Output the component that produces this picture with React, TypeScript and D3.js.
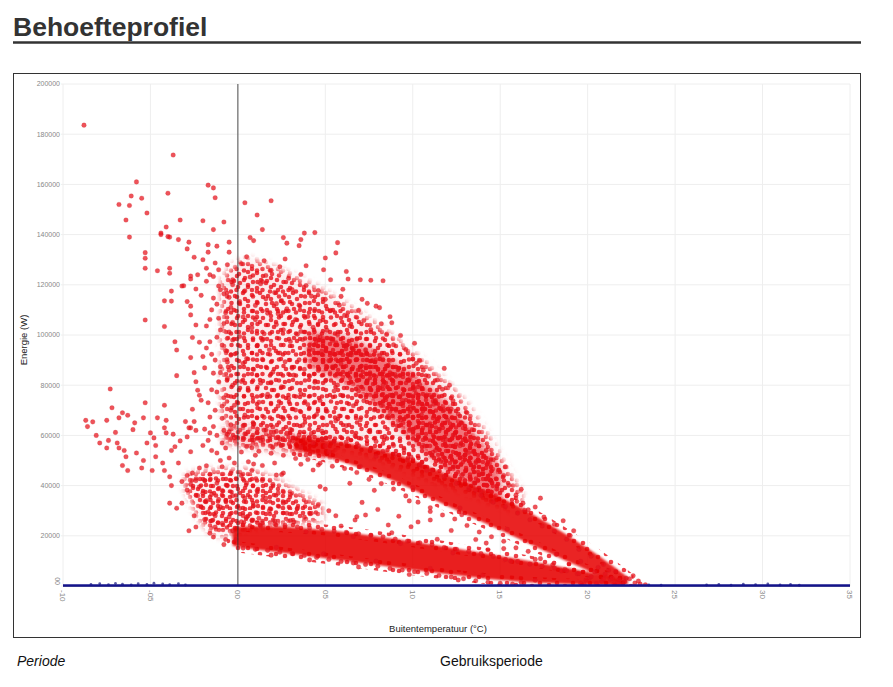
import * as d3 from 'd3'

// Behoefteprofiel: energie (W) tegen buitentemperatuur (°C)
// y-waarden in de puntenlijsten staan in kW

const xTicks = [-10, -5, 0, 5, 10, 15, 20, 25, 30, 35]
const xTickLabels = ['-10', '-05', '00', '05', '10', '15', '20', '25', '30', '35']
const yTicks = [0, 20000, 40000, 60000, 80000, 100000, 120000, 140000, 160000, 180000, 200000]
const yTickLabels = ['00', '20000', '40000', '60000', '80000', '100000', '120000', '140000', '160000', '180000', '200000']

// dichte kernen van de puntenwolk: [temp, ondergrens kW, bovengrens kW]
const lowBand: [number, number, number][] = [
  [-0.3, 16, 23], [0, 15.5, 24], [3.5, 12.5, 23.5], [6.3, 9.8, 21.5], [9.2, 7.2, 18.5], [12, 4.6, 15.5],
  [15, 2.2, 12], [17.8, 1, 8.5], [20.6, 0.3, 5], [22, 0.1, 2],
]
const midBand: [number, number, number][] = [
  [3.2, 54, 59.5], [4.5, 52.5, 58.5], [6.3, 49, 57], [9.2, 41.5, 53], [12, 31.5, 44],
  [15, 22.5, 36], [17.8, 13, 25], [20.6, 4.2, 12.5], [22.3, 0.5, 3.5],
]
const midBandLeft: [number, number, number][] = [
  [-0.8, 57, 63], [0, 56, 63.5], [2, 54.5, 61.5], [4, 53, 59.5], [5.5, 50.5, 58],
]
const cloudArea: [number, number, number][] = [
  [-0.9, 68, 122], [-0.3, 63, 128], [0.5, 62, 131], [2, 60, 127], [4, 58, 121], [6, 55, 113], [8, 51, 104],
  [10, 45, 93], [12, 40, 81], [13.5, 36, 69], [15, 32, 51], [16.2, 29, 37],
]
const ridgeArea: [number, number, number][] = [
  [4.0, 88, 101], [6, 82, 100], [8, 72, 93], [10, 58, 85], [12, 45, 73], [13.5, 39, 61], [15, 33, 46],
]
const wedgeArea: [number, number, number][] = [
  [-3.0, 39, 44], [-2, 23, 46], [-1, 19, 46], [0, 22, 47], [1.5, 24, 45], [3, 25, 39], [4.8, 26, 32],
]

const topPoints: [number, number][] = [
  [-8.8, 183.6], [-3.7, 171.7], [-5.8, 161], [-6.1, 155.4], [-6.8, 152], [-6.2, 151.6], [-5.2, 148.6],
  [-4, 156.5], [-1.7, 159.7], [-1.4, 158.6], [-1.3, 154.7], [0.4, 152.7], [1.9, 153.5], [1.1, 147.8],
  [1.4, 142], [-3.3, 145.8], [-2, 145.5], [-0.8, 145], [-1.4, 142], [-4.1, 143], [-4.4, 140], [-4, 139.2],
  [-2.8, 137], [4.4, 140.8], [3.8, 140.6], [5.7, 136.8], [2.6, 138.8], [3.6, 138], [0.7, 138.8],
  [0.9, 137.6], [2.8, 136.6], [3.5, 135.6], [5.6, 132.7], [5, 130.7], [-6.4, 145.8], [-5.5, 154.5],
  [-0.6, 128], [7.6, 121.8], [8.3, 121.6], [6.2, 125.3], [-6.2, 139], [-4.4, 140.6], [-3.9, 139],
  [-3.4, 138], [-1.7, 136], [-1.2, 135.4], [-0.5, 137],
]

const leftPoints: [number, number][] = [
  [-8.7, 66], [-8.6, 63.5], [-8.1, 60], [-7.9, 57], [-7.5, 66], [-7.4, 58], [-7.3, 78.5], [-7.2, 71],
  [-7.5, 55], [-6.9, 57], [-6.8, 55], [-6.8, 67], [-6.6, 69], [-6.5, 54], [-6.4, 51.5], [-6.3, 46],
  [-6.6, 48], [-6.3, 68], [-5.9, 65], [-5.8, 53], [-5.5, 47], [-5.4, 50], [-5.3, 73], [-5.4, 67],
  [-5.2, 57], [-5, 61], [-4.9, 46], [-4.8, 59], [-4.7, 56], [-4.7, 51.5], [-4.6, 67], [-4.3, 49],
  [-4.2, 72], [-4.2, 46], [-4.1, 66], [-4.2, 63], [-3.9, 43.5], [-3.8, 40], [-4.1, 61], [-3.8, 54],
  [-3.6, 55.5], [-3.9, 33], [-3.5, 31], [-3.2, 33], [-3.4, 49], [-3, 65.5], [-2.8, 63], [-2.5, 65.5],
  [-2.7, 53.5], [-2.7, 63], [-2.4, 62],
  [-5.3, 132.8], [-5.3, 130.6], [-5.3, 126.6], [-5.3, 106], [-4.6, 125.6], [-4.2, 113.6], [-4.2, 103.4],
  [-3.9, 126.6], [-3.9, 124.6], [-3.8, 117.5], [-3.8, 113.5], [-3.6, 97.3], [-3.5, 94], [-3.5, 83.8],
  [-3.2, 119.5], [-3.1, 119.6], [-2.9, 134.3], [-2.7, 122.3], [-2.7, 123.5], [-2.9, 113.3], [-2.7, 111.5],
  [-2.7, 108], [-2.5, 131], [-2.4, 118.3], [-2.4, 104], [-2.3, 124], [-2.6, 99], [-2.7, 91], [-2.5, 85],
  [-2.4, 81.4], [-2.3, 78], [-2.2, 76], [-2.1, 74], [-1.8, 126.6], [-1.7, 133], [-2, 130], [-1.6, 124],
  [-1.3, 128.7], [-1.1, 126], [-1.1, 119.5], [-1, 118], [-1.4, 114.7], [-1.5, 110], [-1.1, 106.7],
  [-1, 102], [-0.9, 96], [-1.6, 97.3], [-1.8, 94.8], [-2, 91.4], [-1.3, 90], [-1, 87.4], [-0.5, 86],
  [-1.4, 84.8], [-1.1, 81.4], [-1, 85], [-0.8, 75], [-1.3, 70], [-0.4, 70], [-1.7, 73], [-0.5, 115],
  [-0.3, 120], [-0.4, 111], [-0.3, 105], [-0.3, 98], [-0.4, 92], [-0.3, 80], [-0.2, 72], [-0.3, 122],
  [-0.5, 133], [-1.9, 62.5], [-1.6, 61], [-1.2, 60], [-1.4, 63.5], [-0.8, 62], [-0.6, 60.5], [-1.7, 58],
  [-0.9, 57], [-1.5, 54], [-1.2, 53], [-0.7, 55], [-2, 56], [-1, 50], [-0.5, 51], [-2.2, 47], [-0.9, 47.5],
  [-3.7, 60.5], [-3.3, 57.8], [-2.9, 59.4], [-6.0, 62.3], [-7.0, 61.2], [-8.3, 65.4],
  [-1.8, 103.6], [-2.2, 97.1], [-0.7, 93.8], [-1.9, 86.9], [-0.6, 82.7], [-1.5, 78.2], [-0.9, 66.8],
  [-1.6, 67.3], [-2.6, 70.4], [-0.4, 64.2], [-1.2, 112.3], [-0.7, 108.9], [-2.1, 115.8], [-1.8, 121.4],
  [-1.2, 99.1], [-0.8, 104.6], [-1.5, 92.3], [-0.6, 89.2], [-1.2, 77.3], [-0.9, 71.6], [-1.4, 123.3],
  [-0.8, 116.4], [-1.6, 106.2], [-0.5, 101.2],
]

const wedgePoints: [number, number][] = [
  [-2.6, 45], [-2.4, 42], [-2.2, 39.5], [-2, 37], [-2.5, 28], [-2.4, 23.5], [-2.1, 31.5], [-1.8, 34],
  [-1.7, 29.5], [-1.5, 26], [-1.4, 19.5], [-1.3, 23.5], [-1, 31.5], [-0.9, 38], [-0.7, 34], [-0.5, 27.5],
  [-0.4, 45], [-0.3, 22], [-0.2, 49], [-0.1, 18.5], [-0.7, 18.5], [-0.8, 16.5], [-2.9, 44], [-2.7, 40.5],
  [-2.3, 36], [-1.9, 42], [-1.6, 44.5], [-1.2, 41], [-1.5, 36.5], [-1.1, 34.5], [-0.6, 40], [-0.3, 36],
  [-1.9, 26.5], [-1.3, 28], [-0.9, 25], [-2.8, 22], [-1.6, 21], [0.2, 44], [0.5, 41], [0.8, 46],
  [1.1, 38], [1.4, 42], [0.4, 35], [0.9, 32], [1.6, 35], [2.0, 40.5], [2.3, 37], [1.8, 30], [2.6, 33],
  [3.0, 36.5], [2.8, 29], [3.4, 31], [3.8, 27.5], [0.3, 28], [1.2, 27], [2.1, 26], [3.2, 25.5], [4.2, 29],
  [4.6, 32.5], [5.2, 30], [5.6, 28], [0.6, 49.5], [1.4, 48], [2.6, 45], [0.1, 31], [2.2, 44.2], [2.5, 44.4],
  [4.6, 48.2], [4.7, 39.6], [1.0, 52.1], [0.2, 53.4], [-3.2, 41.6], [-2.9, 38.2], [-1.8, 47.9], [0.9, 48.6],
]

const cloudPoints: [number, number][] = [
  [0.2, 128.4], [0.7, 123.1], [0.4, 117.6], [1.0, 111.8], [0.3, 107.2], [0.8, 102.9], [0.1, 99.4], [1.1, 95.7],
  [0.5, 90.6], [0.9, 86.3], [0.2, 81.5], [0.6, 77.9], [1.2, 73.2], [0.4, 68.1], [0.9, 64.6], [0.1, 113.3],
  [1.3, 120.4], [0.5, 131.2], [0.3, 88.7], [1.0, 106.1], [1.5, 129.6], [1.9, 125.8], [1.4, 121.3], [2.1, 116.9],
  [1.6, 114.4], [1.7, 108.7], [2.2, 104.2], [1.5, 100.5], [1.8, 94.1], [1.4, 90.3], [2.0, 85.2], [1.3, 80.8],
  [1.7, 76.4], [2.3, 71.7], [1.5, 67.2], [2.0, 63.3], [1.6, 123.7], [2.2, 112.5], [1.4, 97.9], [1.9, 81.2],
  [2.4, 127.2], [2.9, 122.6], [3.1, 118.1], [2.5, 113.7], [2.8, 110.4], [3.3, 106.2], [2.6, 102.1], [3.0, 97.4],
  [2.4, 92.8], [2.7, 89.3], [3.2, 84.0], [2.5, 79.4], [2.9, 74.8], [3.3, 70.1], [2.6, 66.5], [3.0, 62.4],
  [2.7, 130.3], [3.4, 100.3], [2.3, 108.5], [3.1, 86.8], [3.6, 124.1], [3.9, 119.7], [4.2, 115.5], [3.5, 111.9],
  [4.0, 107.4], [4.3, 103.1], [3.7, 98.2], [4.1, 94.5], [3.5, 90.1], [3.8, 86.3], [4.4, 81.2], [3.6, 76.6],
  [4.0, 72.3], [4.5, 68.3], [3.7, 64.0], [4.2, 60.8], [3.9, 127.6], [4.4, 110.2], [3.6, 101.4], [4.1, 83.6],
  [4.6, 117.7], [5.0, 114.2], [5.3, 109.8], [4.7, 105.6], [5.1, 101.9], [5.4, 97.8], [4.8, 93.6], [5.2, 89.8],
  [4.6, 85.9], [5.0, 81.7], [5.5, 77.7], [4.7, 73.9], [5.1, 69.6], [5.6, 65.8], [4.8, 61.7], [5.3, 122.0],
  [4.9, 126.0], [5.4, 87.3], [4.7, 99.2], [5.8, 111.9], [6.1, 107.8], [6.4, 103.6], [5.7, 100.2], [6.2, 95.7],
  [6.5, 92.1], [5.9, 88.4], [6.3, 84.0], [5.7, 80.1], [6.0, 75.9], [6.6, 71.8], [5.8, 67.7], [6.2, 63.9],
  [6.7, 59.8], [6.0, 118.2], [6.3, 122.3], [5.9, 115.4], [6.6, 94.3], [6.9, 109.8], [7.2, 105.8], [7.6, 102.2],
  [6.8, 98.4], [7.3, 94.0], [7.7, 89.8], [7.0, 86.2], [7.4, 81.9], [6.9, 77.7], [7.2, 73.8], [7.8, 70.1],
  [7.0, 66.2], [7.5, 61.7], [7.9, 57.6], [7.1, 114.2], [7.4, 112.6], [7.9, 111.5], [7.0, 122.0], [8.2, 104.5],
  [8.5, 100.2], [8.9, 96.1], [8.1, 91.8], [8.6, 88.0], [9.0, 84.2], [8.3, 80.1], [8.8, 75.8], [8.2, 71.9],
  [8.6, 67.7], [9.1, 63.8], [8.4, 59.6], [8.9, 56.0], [8.1, 110.9], [8.7, 107.3], [8.8, 104.9], [9.3, 99.8],
  [9.6, 94.2], [10.0, 90.4], [9.2, 86.7], [9.7, 82.1], [10.1, 78.2], [9.4, 74.0], [9.9, 70.3], [9.3, 66.1],
  [9.8, 62.0], [10.2, 58.1], [9.5, 54.3], [9.9, 51.4], [10.1, 96.7], [10.2, 88.7], [10.4, 89.8], [10.6, 86.0],
  [10.9, 83.6], [10.4, 80.3], [10.8, 76.1], [11.2, 72.4], [10.5, 68.2], [10.9, 64.1], [10.3, 60.0], [10.7, 55.7],
  [11.1, 52.0], [10.5, 47.9], [11.4, 82.1], [11.7, 78.4], [11.8, 86.7], [11.3, 74.0], [11.8, 70.2], [12.0, 66.1],
  [11.5, 61.8], [11.9, 58.3], [11.3, 54.0], [11.6, 49.6], [12.1, 80.0], [12.3, 73.8], [12.6, 68.5], [12.8, 64.8],
  [12.4, 60.1], [12.7, 55.9], [13.0, 52.2], [12.4, 47.7], [12.8, 44.1], [12.2, 70.5], [13.1, 69.0], [13.4, 62.3],
  [13.7, 57.1], [13.2, 53.2], [13.6, 49.0], [14.0, 45.2], [13.5, 41.1], [13.9, 37.8], [14.2, 54.1], [14.6, 50.3],
  [14.9, 46.2], [14.4, 42.3], [14.8, 38.6], [15.2, 44.0], [15.5, 40.1], [15.9, 36.2], [16.3, 33.0], [16.6, 30.4],
  [15.3, 47.5], [16.2, 38.5], [17.0, 31.5], [17.5, 27.5], [18.1, 24.6], [17.3, 35.0], [18.6, 26.0], [19.2, 22.0],
]

const midPoints: [number, number][] = [
  [0.3, 63.8], [0.9, 64.5], [1.5, 62.1], [2.2, 61.6], [2.8, 60.9], [3.5, 60.2], [4.1, 59.3], [4.8, 58.5],
  [5.5, 57.6], [6.2, 57.4], [6.9, 55.9], [7.6, 54.8], [8.3, 53.7], [9.0, 52.6], [9.7, 50.2], [10.4, 48.4],
  [11.1, 46.2], [11.8, 43.6], [12.5, 40.9], [13.2, 38.7], [13.9, 36.1], [14.6, 33.4], [15.3, 31.7], [16.0, 29.1],
  [16.7, 26.4], [17.4, 23.9], [18.1, 21.8], [18.8, 18.6], [19.5, 14.6], [20.2, 11.9], [20.9, 8.6], [21.6, 5.8],
  [22.2, 3.1], [0.5, 55.6], [1.2, 53.7], [1.9, 52.9], [2.6, 52.1], [3.3, 50.8], [4.0, 50.4], [4.7, 48.9],
  [5.4, 47.7], [6.1, 46.8], [6.8, 45.2], [7.5, 42.5], [8.2, 40.8], [8.9, 38.6], [9.6, 35.9], [10.3, 33.4],
  [11.0, 31.2], [11.7, 28.3], [12.4, 26.7], [13.1, 24.1], [13.8, 21.5], [14.5, 19.6], [15.2, 17.8], [15.9, 15.2],
  [16.6, 13.8], [17.3, 10.9], [18.0, 8.4], [18.7, 6.6], [19.4, 4.9], [20.1, 3.2], [20.8, 1.8],
  [1.1, 61.2], [2.4, 58.6], [5.0, 55.8], [7.9, 51.7], [10.8, 46.1], [13.6, 38.2], [16.4, 30.2], [19.0, 20.1],
  [0.8, 55.1], [3.9, 52.2], [7.0, 47.6], [10.0, 39.2], [12.7, 31.1], [15.4, 22.6], [18.2, 12.6], [21.3, 2.6],
  [-0.2, 59.1], [0.4, 60.6], [1.3, 57.9], [1.8, 59.8], [2.5, 56.1], [3.1, 57.7], [0.9, 58.2], [2.0, 55.3],
  [-0.5, 61.4], [3.6, 55.4], [4.3, 57.0], [5.2, 53.4],
]

const lowPoints: [number, number][] = [
  [0.2, 25.6], [0.8, 26.3], [1.4, 25.1], [2.1, 24.8], [2.7, 24.2], [3.4, 23.5], [4.1, 23.1], [4.8, 22.6],
  [5.5, 21.9], [6.2, 21.4], [6.9, 20.8], [7.6, 20.1], [8.3, 19.6], [9.0, 18.7], [9.7, 17.9], [10.4, 17.2],
  [11.1, 16.4], [11.8, 15.3], [12.5, 14.6], [13.2, 13.8], [13.9, 12.9], [14.6, 11.8], [15.3, 10.6], [16.0, 9.8],
  [16.7, 8.7], [17.4, 7.9], [18.1, 7.2], [18.8, 6.1], [19.5, 5.0], [20.2, 3.7], [20.9, 2.8], [0.3, 15.1],
  [1.0, 14.6], [1.7, 14.2], [2.4, 13.5], [3.1, 12.9], [3.8, 12.2], [4.5, 11.4], [5.2, 10.6], [5.9, 9.8],
  [6.6, 9.2], [7.3, 8.6], [8.0, 7.9], [8.7, 7.0], [9.4, 6.4], [10.1, 5.7], [10.8, 5.0], [11.5, 4.2],
  [12.2, 3.6], [12.9, 2.9], [13.6, 2.1], [14.3, 1.5], [15.0, 1.1], [15.7, 0.8],
  [1.3, 23.9], [3.9, 21.6], [6.6, 19.7], [9.3, 16.9], [12.3, 13.2], [15.6, 9.9], [18.5, 6.0],
  [2.2, 15.4], [4.9, 12.8], [7.9, 9.9], [11.0, 7.0], [14.0, 4.3], [17.0, 2.3], [19.6, 1.1],
  [0.5, 27.4], [3.0, 26.1], [5.9, 23.9], [8.8, 21.2], [11.4, 18.6], [14.3, 14.4], [17.0, 10.6],
  [1.9, 12.3], [4.1, 10.4], [6.9, 7.6], [9.8, 4.6], [12.6, 2.4], [16.2, 1.4],
]

const gapPoints: [number, number][] = [
  [5.0, 38.6], [6.4, 40.9], [7.1, 33.3], [8.0, 30.5], [9.2, 27.8], [10.3, 25.5], [11.0, 29.7], [12.2, 22.1],
  [8.6, 24.3], [6.8, 27.6], [13.6, 18.5], [15.2, 14.9], [7.8, 38.1], [9.8, 33.9], [2.1, 49.0], [3.6, 48.5],
  [4.3, 46.2], [6.7, 26.3], [7.3, 28.3], [9.9, 23.6], [11.0, 26.3], [12.8, 28.4], [14.2, 17.1],
]

const tailPoints: [number, number][] = [
  [21.0, 4.8], [21.4, 3.2], [21.8, 2.4], [22.1, 1.6], [22.4, 2.9], [22.7, 1.2], [23.0, 0.8], [22.0, 0.6],
  [21.5, 0.9], [20.5, 1.1], [19.8, 0.7], [23.3, 0.5], [22.9, 2.0], [21.2, 6.3], [20.6, 7.4], [19.6, 9.8],
  [22.6, 4.1], [20.4, 5.6], [19.9, 2.4], [21.7, 1.0],
]

// donkerblauwe reeks rond 0 W
const navyPoints: [number, number][] = [
  [-8.4, 0.6], [-7.9, 0.9], [-7.4, 0.5], [-7.0, 1.0], [-6.6, 0.7], [-6.1, 0.4], [-5.7, 0.9], [-5.2, 0.6],
  [-4.8, 1.1], [-4.3, 0.8], [-3.9, 0.5], [-3.4, 0.9], [-3.0, 0.4], [26.8, 0.4], [27.5, 0.6], [28.2, 0.3],
  [28.9, 0.7], [29.6, 0.5], [30.3, 0.8], [31.0, 0.4], [31.6, 0.6], [32.1, 0.3], [23.5, 0.4], [24.2, 0.3],
]

const KW = 1000
const FONT = '"Liberation Sans", Arial, Helvetica, sans-serif'
const RED = '#e8101a'

// textuur voor de wolkvlakken (vaste stippen per tegel)
const speckA: [number, number][] = [[3, 3], [11, 5], [19, 2.5], [23.5, 9], [6, 10], [14, 12], [2.5, 17], [10, 18.5], [18, 17], [23, 18.5]]
const speckB: [number, number][] = [
  [4, 6], [12, 3], [21, 5], [29, 3], [8, 13], [17, 11], [26, 12], [3, 20], [13, 19], [22, 21], [30, 19], [7, 26], [17, 26], [26, 27],
]
const speckC: [number, number][] = [[3, 3], [10, 4], [16, 2.5], [6, 9], [13, 10], [18, 13], [3, 15], [10, 15.5]]

export default function App() {
  const x = d3.scaleLinear().domain([-10, 35]).range([63, 850])
  const y = d3.scaleLinear().domain([0, 200000]).range([586, 84])

  const band = d3
    .area<[number, number, number]>()
    .x((d) => x(d[0]))
    .y0((d) => y(d[1] * KW))
    .y1((d) => y(d[2] * KW))
    .curve(d3.curveBasis)

  const redPoints = [
    ...topPoints, ...leftPoints, ...wedgePoints, ...cloudPoints,
    ...midPoints, ...lowPoints, ...gapPoints, ...tailPoints,
  ]

  const speckPattern = (id: string, w: number, h: number, dots: [number, number][]) => (
    <pattern id={id} width={w} height={h} patternUnits="userSpaceOnUse">
      {dots.map((d, i) => (
        <circle key={i} cx={d[0]} cy={d[1]} r={2.3} fill={RED} fillOpacity={0.8} />
      ))}
    </pattern>
  )

  const cloudPath = band(cloudArea) ?? ''
  const ridgePath = band(ridgeArea) ?? ''
  const wedgePath = band(wedgeArea) ?? ''
  const midPath = band(midBand) ?? ''
  const midLeftPath = band(midBandLeft) ?? ''
  const lowPath = band(lowBand) ?? ''

  const full = { x: 63, y: 84, width: 787, height: 502 }

  return (
    <svg width={893} height={687} style={{ position: 'absolute', left: 0, top: 0, background: '#fff' }}>
      <defs>
        <filter id="soft" x="-5%" y="-5%" width="110%" height="110%">
          <feGaussianBlur stdDeviation="0.8" />
        </filter>
        <filter id="fade" x="-20%" y="-20%" width="140%" height="140%">
          <feGaussianBlur stdDeviation="3.5" />
        </filter>
        <mask id="cloudMask" maskUnits="userSpaceOnUse" x={0} y={0} width={893} height={687}>
          <path d={cloudPath} fill="#fff" filter="url(#fade)" />
        </mask>
        <mask id="wedgeMask" maskUnits="userSpaceOnUse" x={0} y={0} width={893} height={687}>
          <path d={wedgePath} fill="#fff" filter="url(#fade)" />
        </mask>
        <mask id="ridgeMask" maskUnits="userSpaceOnUse" x={0} y={0} width={893} height={687}>
          <path d={ridgePath} fill="#fff" filter="url(#fade)" />
        </mask>
        <mask id="midLeftMask" maskUnits="userSpaceOnUse" x={0} y={0} width={893} height={687}>
          <path d={midLeftPath} fill="#fff" filter="url(#fade)" />
        </mask>
        <clipPath id="plot">
          <rect {...full} />
        </clipPath>
        {speckPattern('speckA', 26, 21, speckA)}
        {speckPattern('speckB', 33, 29, speckB)}
        {speckPattern('speckC', 20, 17, speckC)}
      </defs>

      <text x={13} y={36} fontFamily={FONT} fontWeight="bold" fontSize={26.5} fill="#333">
        Behoefteprofiel
      </text>
      <line x1={13} x2={861} y1={42.5} y2={42.5} stroke="#333" strokeWidth={2.5} />

      <rect x={13.5} y={73.5} width={847} height={564} fill="#fff" stroke="#333" strokeWidth={1} />

      {xTicks.map((t) => (
        <line key={'gx' + t} x1={x(t)} x2={x(t)} y1={84} y2={586} stroke="#eeeeee" strokeWidth={1} />
      ))}
      {yTicks.map((t) => (
        <line key={'gy' + t} x1={61} x2={850} y1={y(t)} y2={y(t)} stroke="#eeeeee" strokeWidth={1} />
      ))}

      {yTicks.map((t, i) =>
        i === 0 ? (
          <text key={'ly' + t} transform={`translate(57,${y(t) - 1}) rotate(90)`} textAnchor="end" dy="0.35em"
            fontFamily={FONT} fontSize={7} fill="#888">{yTickLabels[i]}</text>
        ) : (
          <text key={'ly' + t} x={60} y={y(t)} dy="0.35em" textAnchor="end" fontFamily={FONT} fontSize={7} fill="#888">
            {yTickLabels[i]}
          </text>
        )
      )}

      {xTicks.map((t, i) => (
        <text key={'lx' + t} transform={`translate(${x(t)},590) rotate(90)`} dy="0.35em" textAnchor="start"
          fontFamily={FONT} fontSize={8} fill="#888">{xTickLabels[i]}</text>
      ))}

      <text transform="translate(27,340) rotate(-90)" textAnchor="middle" fontFamily={FONT} fontSize={9.5} fill="#222">
        Energie (W)
      </text>
      <text x={438} y={632} textAnchor="middle" fontFamily={FONT} fontSize={9.5} fill="#222">
        Buitentemperatuur (°C)
      </text>

      <g clipPath="url(#plot)">
        <g mask="url(#cloudMask)">
          <rect {...full} fill={RED} fillOpacity={0.08} />
          <rect {...full} fill="url(#speckA)" />
          <rect {...full} fill="url(#speckB)" />
        </g>
        <g mask="url(#wedgeMask)">
          <rect {...full} fill={RED} fillOpacity={0.06} />
          <rect {...full} fill="url(#speckA)" />
          <rect {...full} fill="url(#speckC)" />
        </g>
        <g mask="url(#ridgeMask)">
          <rect {...full} fill={RED} fillOpacity={0.55} />
          <rect {...full} fill="url(#speckC)" />
          <rect {...full} fill="url(#speckB)" />
          <rect {...full} fill="url(#speckA)" />
        </g>
        <g mask="url(#midLeftMask)">
          <rect {...full} fill={RED} fillOpacity={0.2} />
          <rect {...full} fill="url(#speckA)" />
          <rect {...full} fill="url(#speckB)" />
          <rect {...full} fill="url(#speckC)" />
        </g>
        {/* gespikkelde rand rond de dichte banden */}
        <path d={midPath} fill="none" stroke="url(#speckB)" strokeWidth={11} />
        <path d={lowPath} fill="none" stroke="url(#speckB)" strokeWidth={11} />
        <g filter="url(#soft)">
          <path d={midPath} fill="#e60000" fillOpacity={0.86} />
          <path d={lowPath} fill="#e60000" fillOpacity={0.88} />
        </g>
        {redPoints.map((d, i) => (
          <circle key={'p' + i} cx={x(d[0])} cy={y(d[1] * KW)} r={2.3} fill={RED} fillOpacity={0.72}
            stroke="#c81c24" strokeOpacity={0.35} strokeWidth={0.6} />
        ))}
      </g>

      <line x1={x(0)} x2={x(0)} y1={84} y2={586} stroke="#333" strokeOpacity={0.85} strokeWidth={1} />

      <line x1={63} x2={850} y1={586} y2={586} stroke="#555" strokeWidth={1} />
      {navyPoints.map((d, i) => (
        <circle key={'n' + i} cx={x(d[0])} cy={y(d[1] * KW)} r={1.4} fill="#1a1a80" fillOpacity={0.7} />
      ))}
      <line x1={x(-10)} x2={x(35)} y1={y(0) - 0.5} y2={y(0) - 0.5} stroke="#14148c" strokeWidth={2.4} />

      <text x={17} y={666} fontFamily={FONT} fontSize={14} fontStyle="italic" fill="#111">Periode</text>
      <text x={440} y={666} fontFamily={FONT} fontSize={14} fill="#111">Gebruiksperiode</text>
    </svg>
  )
}
